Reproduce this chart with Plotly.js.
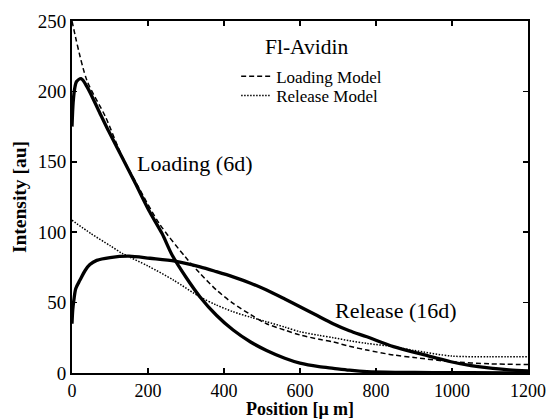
<!DOCTYPE html>
<html>
<head>
<meta charset="utf-8">
<script src="https://cdn.plot.ly/plotly-3.0.1.min.js"></script>
<style>html,body{margin:0;padding:0;background:#fff;}#chart{width:549px;height:419px;}</style>
</head>
<body>
<div id="chart"></div>
<script>
// Loading (6d) measured profile
const loadingX = [0, 3, 7, 12, 24, 40, 70, 96, 132, 167, 202, 237, 263, 300, 337, 380, 424, 470, 512, 560, 600, 650, 688, 730, 776, 850, 950, 1050, 1200];
const loadingY = [175, 192, 202, 207, 209, 203, 186.5, 172, 153, 134.5, 115.6, 99, 84, 68, 54, 41, 30.5, 22, 16, 10.5, 7, 4.5, 3.3, 2, 1, 0.5, 0.3, 0.2, 0];
// Release (16d) measured profile
const releaseX = [0, 2, 5, 10, 21, 35, 47, 65, 100, 150, 205, 271, 337, 380, 424, 470, 512, 560, 600, 640, 687, 730, 776, 846, 925, 997, 1050, 1091, 1150, 1200];
const releaseY = [35, 45, 52, 60, 66, 73, 77, 80, 82, 83, 81.5, 79.5, 75.4, 72, 68.3, 63.8, 58.9, 52.5, 47, 41.5, 35, 30, 25.7, 18.7, 13, 8, 5.3, 3.8, 2.2, 1.5];
// Loading model (dashed)
const loadModelX = [0, 39, 88, 130, 175, 230, 298, 337, 380, 424, 470, 512, 560, 600, 650, 688, 730, 776, 846, 900, 1000, 1100, 1200];
const loadModelY = [250, 208, 182, 155, 132, 106, 82.5, 70.7, 59, 49.4, 41.5, 35, 30.5, 27, 24, 22, 19, 16.3, 12.8, 11, 8, 6.5, 6];
// Release model (dotted)
const relModelX = [0, 50, 100, 132, 200, 267, 337, 380, 424, 470, 512, 560, 600, 650, 688, 730, 776, 846, 900, 1000, 1100, 1200];
const relModelY = [108.5, 99, 90.5, 85, 76, 66, 54, 48.3, 43.5, 39.6, 36.4, 32.6, 29.3, 26.8, 25, 23, 21, 18.7, 16, 12, 11.6, 11.6];

const xTicks = [0, 200, 400, 600, 800, 1000, 1200];
const yTicks = [0, 50, 100, 150, 200, 250];

const serif = "Liberation Serif";

const traces = [
  {x: loadModelX, y: loadModelY, mode: "lines", name: "Loading Model", legend: "legend", line: {color: "#000", width: 1.5, dash: "5px,3px", shape: "spline", smoothing: 0.8}, showlegend: true},
  {x: relModelX, y: relModelY, mode: "lines", name: "Release Model", legend: "legend2", line: {color: "#000", width: 1.5, dash: "1.5px,1.5px", shape: "spline", smoothing: 0.8}, showlegend: true},
  {x: loadingX, y: loadingY, mode: "lines", name: "Loading (6d)", line: {color: "#000", width: 3.3, shape: "spline", smoothing: 0.8}, showlegend: false},
  {x: releaseX, y: releaseY, mode: "lines", name: "Release (16d)", line: {color: "#000", width: 3.3, shape: "spline", smoothing: 0.8}, showlegend: false}
];

const legendBase = {
  xanchor: "left", yanchor: "middle",
  bgcolor: "rgba(0,0,0,0)", borderwidth: 0,
  font: {family: serif, size: 17}, tracegroupgap: 0, itemwidth: 30
};

const layout = {
  width: 549, height: 419,
  margin: {l: 72, r: 21, t: 21, b: 46},
  paper_bgcolor: "#fff", plot_bgcolor: "#fff",
  font: {family: serif, color: "#000", size: 16},
  xaxis: {
    range: [0, 1200], tickvals: xTicks, ticktext: xTicks.map(String),
    ticks: "inside", ticklen: 5, tickwidth: 1.5, tickcolor: "#000",
    showline: true, linecolor: "#000", linewidth: 2, mirror: "ticks",
    showgrid: false, zeroline: false,
    tickfont: {family: serif, size: 18},
    title: {text: "Position [μ m]", font: {family: serif, size: 18, weight: "bold"}, standoff: 4}
  },
  yaxis: {
    range: [0, 250], tickvals: yTicks, ticktext: yTicks.map(String),
    ticks: "inside", ticklen: 5, tickwidth: 1.5, tickcolor: "#000",
    showline: true, linecolor: "#000", linewidth: 2, mirror: "ticks",
    showgrid: false, zeroline: false,
    tickfont: {family: serif, size: 19},
    title: {text: "Intensity [au]", font: {family: serif, size: 19.5, weight: "bold"}, standoff: 6}
  },
  legend: Object.assign({}, legendBase, {x: 0.36, y: 0.842}),
  legend2: Object.assign({}, legendBase, {x: 0.36, y: 0.787}),
  annotations: [
    {x: 618, y: 231.5, xref: "x", yref: "y", text: "Fl-Avidin", showarrow: false, xanchor: "center", yanchor: "middle", font: {family: serif, size: 21.5}},
    {x: 166, y: 149, xref: "x", yref: "y", text: "Loading (6d)", showarrow: false, xanchor: "left", yanchor: "middle", font: {family: serif, size: 22}},
    {x: 687, y: 44.5, xref: "x", yref: "y", text: "Release (16d)", showarrow: false, xanchor: "left", yanchor: "middle", font: {family: serif, size: 22}}
  ],
  showlegend: true
};

Plotly.newPlot("chart", traces, layout, {staticPlot: true, displayModeBar: false});
</script>
</body>
</html>
